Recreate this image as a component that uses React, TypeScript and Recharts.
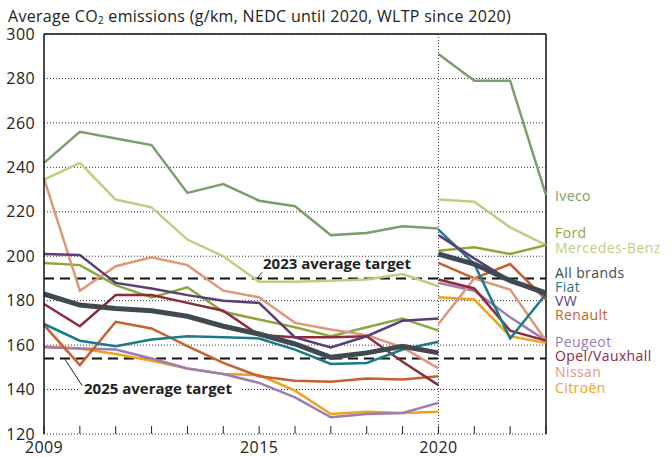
import { LineChart, Line, XAxis, YAxis, CartesianGrid, ReferenceLine } from 'recharts';

const FONT = '"Open Sans", "Noto Sans", sans-serif';

const YEARS = [2009, 2010, 2011, 2012, 2013, 2014, 2015, 2016, 2017, 2018, 2019, 2020, 2021, 2022, 2023];
const NEDC_YEARS = [2009, 2010, 2011, 2012, 2013, 2014, 2015, 2016, 2017, 2018, 2019, 2020];
const WLTP_YEARS = [2020, 2021, 2022, 2023];
const LABELLED_YEARS = [2009, 2015, 2020];
const Y_TICKS = [120, 140, 160, 180, 200, 220, 240, 260, 280, 300];

const TARGET_2023 = 190;
const TARGET_2025 = 154;

// NEDC values 2009-2020
const ivecoNedc = [242, 256, 253, 250, 228.5, 232.5, 225, 222.5, 209.5, 210.5, 213.5, 212.5];
const mercedesNedc = [234.5, 242, 225.5, 222, 207.5, 200, 188.5, 188.5, 189, 189.5, 192, 186.5];
const fordNedc = [197, 196, 187, 181.5, 186, 175, 171.5, 168, 164, 168, 172, 166.5];
const allNedc = [183, 178, 176.5, 175.5, 173, 168.5, 165, 160.5, 154.5, 156.5, 159.5, 156.5];
const fiatNedc = [169.5, 162, 159.5, 162.5, 164, 163.5, 163, 158, 151.5, 152, 158, 161.5];
const vwNedc = [201, 200.5, 188, 185.5, 182.5, 180, 179, 163.5, 159, 164, 171, 172];
const renaultNedc = [169, 151, 170.5, 167.5, 159.5, 152, 146, 144, 143.5, 145, 144.5, 146];
const peugeotNedc = [159, 158.5, 158, 154, 149.5, 147, 143, 136.5, 127.5, 129, 129.5, 134];
const opelNedc = [178.5, 168.5, 182.5, 182.5, 179, 175.5, 164.5, 163.5, 163.5, 164, 152.5, 142];
const nissanNedc = [235, 184.5, 195.5, 199.5, 196, 184.5, 181.5, 170, 167, 164.5, 159, 149.5];
const citroenNedc = [159.5, 158.5, 156, 153, 149.5, 147, 146.5, 139.5, 129, 130, 129.5, 130];

// WLTP values 2020-2023
const ivecoWltp = [291, 279, 279, 227.5];
const mercedesWltp = [225.5, 224.5, 213, 205];
const fordWltp = [202.5, 204, 201, 205];
const allWltp = [201, 196.5, 189, 183.5];
const fiatWltp = [212, 196.5, 163, 183];
const vwWltp = [209.5, 199, 189, 182.5];
const renaultWltp = [197, 190, 196.5, 180.5];
const peugeotWltp = [188, 184.5, 172.5, 162];
const opelWltp = [189.5, 185.5, 166.5, 162];
const nissanWltp = [169.5, 190, 185, 162];
const citroenWltp = [181.5, 180.5, 164, 161];

interface Series {
  key: string;
  name: string;
  color: string;
  width: number;
  nedc: number[];
  wltp: number[];
}

const SERIES: Series[] = [
  { key: 'iveco', name: 'Iveco', color: '#7a9f6b', width: 2.5, nedc: ivecoNedc, wltp: ivecoWltp },
  { key: 'mercedes', name: 'Mercedes-Benz', color: '#bccf80', width: 2.5, nedc: mercedesNedc, wltp: mercedesWltp },
  { key: 'ford', name: 'Ford', color: '#8aa83c', width: 2.5, nedc: fordNedc, wltp: fordWltp },
  { key: 'citroen', name: 'Citroën', color: '#f0a21e', width: 2.5, nedc: citroenNedc, wltp: citroenWltp },
  { key: 'peugeot', name: 'Peugeot', color: '#9c7cb2', width: 2.5, nedc: peugeotNedc, wltp: peugeotWltp },
  { key: 'renault', name: 'Renault', color: '#c95f2e', width: 2.5, nedc: renaultNedc, wltp: renaultWltp },
  { key: 'nissan', name: 'Nissan', color: '#e0967a', width: 2.5, nedc: nissanNedc, wltp: nissanWltp },
  { key: 'opel', name: 'Opel/Vauxhall', color: '#8c2b3d', width: 2.5, nedc: opelNedc, wltp: opelWltp },
  { key: 'fiat', name: 'Fiat', color: '#1b7a88', width: 2.5, nedc: fiatNedc, wltp: fiatWltp },
  { key: 'vw', name: 'VW', color: '#5c3b78', width: 2.5, nedc: vwNedc, wltp: vwWltp },
  { key: 'all', name: 'All brands', color: '#3e4a4f', width: 5, nedc: allNedc, wltp: allWltp },
];

// right-hand name labels, vertical centres in px
const LABELS = [
  { name: 'Iveco', color: '#7a9f6b', top: 196 },
  { name: 'Ford', color: '#8aa83c', top: 233 },
  { name: 'Mercedes-Benz', color: '#bccf80', top: 247.5 },
  { name: 'All brands', color: '#3e4a4f', top: 272.5 },
  { name: 'Fiat', color: '#1b7a88', top: 286.5 },
  { name: 'VW', color: '#5c3b78', top: 300.5 },
  { name: 'Renault', color: '#c95f2e', top: 315 },
  { name: 'Peugeot', color: '#9c7cb2', top: 341.5 },
  { name: 'Opel/Vauxhall', color: '#8c2b3d', top: 356 },
  { name: 'Nissan', color: '#e0967a', top: 372 },
  { name: 'Citroën', color: '#f0a21e', top: 388 },
];

const data = YEARS.map((year) => {
  const row: Record<string, number | null> = { year };
  SERIES.forEach((s) => {
    const ni = NEDC_YEARS.indexOf(year);
    const wi = WLTP_YEARS.indexOf(year);
    row[s.key + 'N'] = ni >= 0 ? s.nedc[ni] : null;
    row[s.key + 'W'] = wi >= 0 ? s.wltp[wi] : null;
  });
  return row;
});

const XTick = (props: any) => {
  const { x, y, payload } = props;
  const show = LABELLED_YEARS.includes(payload.value);
  return (
    <g>
      <line x1={x} x2={x} y1={y - 8} y2={y} stroke="#222" strokeWidth={1} />
      {show && (
        <text x={x} y={y + 19} textAnchor="middle" fill="#222" fontSize={16} fontFamily={FONT} letterSpacing={0.4}>
          {payload.value}
        </text>
      )}
    </g>
  );
};

const Label2023 = (props: any) => {
  const { viewBox } = props;
  const ly = viewBox.y;
  const lx = viewBox.x;
  return (
    <g>
      <line x1={lx + 213} y1={ly} x2={lx + 218} y2={ly - 6} stroke="#222" strokeWidth={1} />
      <text x={lx + 219} y={ly - 9} fill="#222" fontSize={15} fontWeight={700} fontFamily={FONT}>
        2023 average target
      </text>
    </g>
  );
};

const Label2025 = (props: any) => {
  const { viewBox } = props;
  const ly = viewBox.y;
  const lx = viewBox.x;
  return (
    <g>
      <rect x={lx + 36} y={ly + 23} width={162} height={18} fill="#fff" />
      <line x1={lx + 21} y1={ly + 1} x2={lx + 38} y2={ly + 27} stroke="#222" strokeWidth={1} />
      <text x={lx + 40} y={ly + 36} fill="#222" fontSize={15} fontWeight={700} fontFamily={FONT}>
        2025 average target
      </text>
    </g>
  );
};

export default function App() {
  return (
    <div style={{ position: 'absolute', left: 0, top: 0, width: 671, height: 457, background: '#fff', fontFamily: FONT }}>
      <div
        style={{
          position: 'absolute',
          left: 8,
          top: 5,
          fontSize: 16,
          fontWeight: 500,
          letterSpacing: 0.3,
          color: '#222',
          whiteSpace: 'nowrap',
        }}
      >
        Average CO<sub style={{ fontSize: 10, verticalAlign: -2 }}>2</sub> emissions (g/km, NEDC until 2020, WLTP since 2020)
      </div>
      <LineChart width={671} height={457} data={data} margin={{ top: 34, right: 125, bottom: 0, left: 8 }}>
        <CartesianGrid vertical={false} stroke="#333" strokeDasharray="1 2" />
        <XAxis
          dataKey="year"
          type="number"
          domain={[2009, 2023]}
          ticks={YEARS}
          axisLine={false}
          tickLine={false}
          tickSize={0}
          tickMargin={0}
          height={23}
          interval={0}
          tick={<XTick />}
        />
        <YAxis
          domain={[120, 300]}
          ticks={Y_TICKS}
          width={36}
          axisLine={{ stroke: '#111', strokeWidth: 1.5 }}
          tickLine={false}
          tickSize={0}
          tickMargin={9}
          interval={0}
          tick={{ fill: '#222', fontSize: 16, fontFamily: FONT, letterSpacing: 0.4 }}
        />
        <ReferenceLine y={300} stroke="#111" strokeWidth={1.5} />
        <ReferenceLine x={2023} stroke="#111" strokeWidth={1.5} />
        <ReferenceLine x={2020} stroke="#333" strokeDasharray="1 2" />
        <ReferenceLine y={TARGET_2023} stroke="#111" strokeWidth={2} strokeDasharray="10 6" label={<Label2023 />} />
        <ReferenceLine y={TARGET_2025} stroke="#111" strokeWidth={2} strokeDasharray="10 6" label={<Label2025 />} />
        {SERIES.map((s) => [
          <Line
            key={s.key + 'N'}
            dataKey={s.key + 'N'}
            type="linear"
            stroke={s.color}
            strokeWidth={s.width}
            dot={false}
            activeDot={false}
            connectNulls={false}
            isAnimationActive={false}
          />,
          <Line
            key={s.key + 'W'}
            dataKey={s.key + 'W'}
            type="linear"
            stroke={s.color}
            strokeWidth={s.width}
            dot={false}
            activeDot={false}
            connectNulls={false}
            isAnimationActive={false}
          />,
        ])}
      </LineChart>
      {LABELS.map((l) => (
        <div
          key={l.name}
          style={{
            position: 'absolute',
            left: 555,
            top: l.top - 7,
            height: 14,
            lineHeight: '14px',
            fontSize: 14,
            letterSpacing: 0.4,
            fontWeight: 500,
            color: l.color,
            whiteSpace: 'nowrap',
          }}
        >
          {l.name}
        </div>
      ))}
    </div>
  );
}
